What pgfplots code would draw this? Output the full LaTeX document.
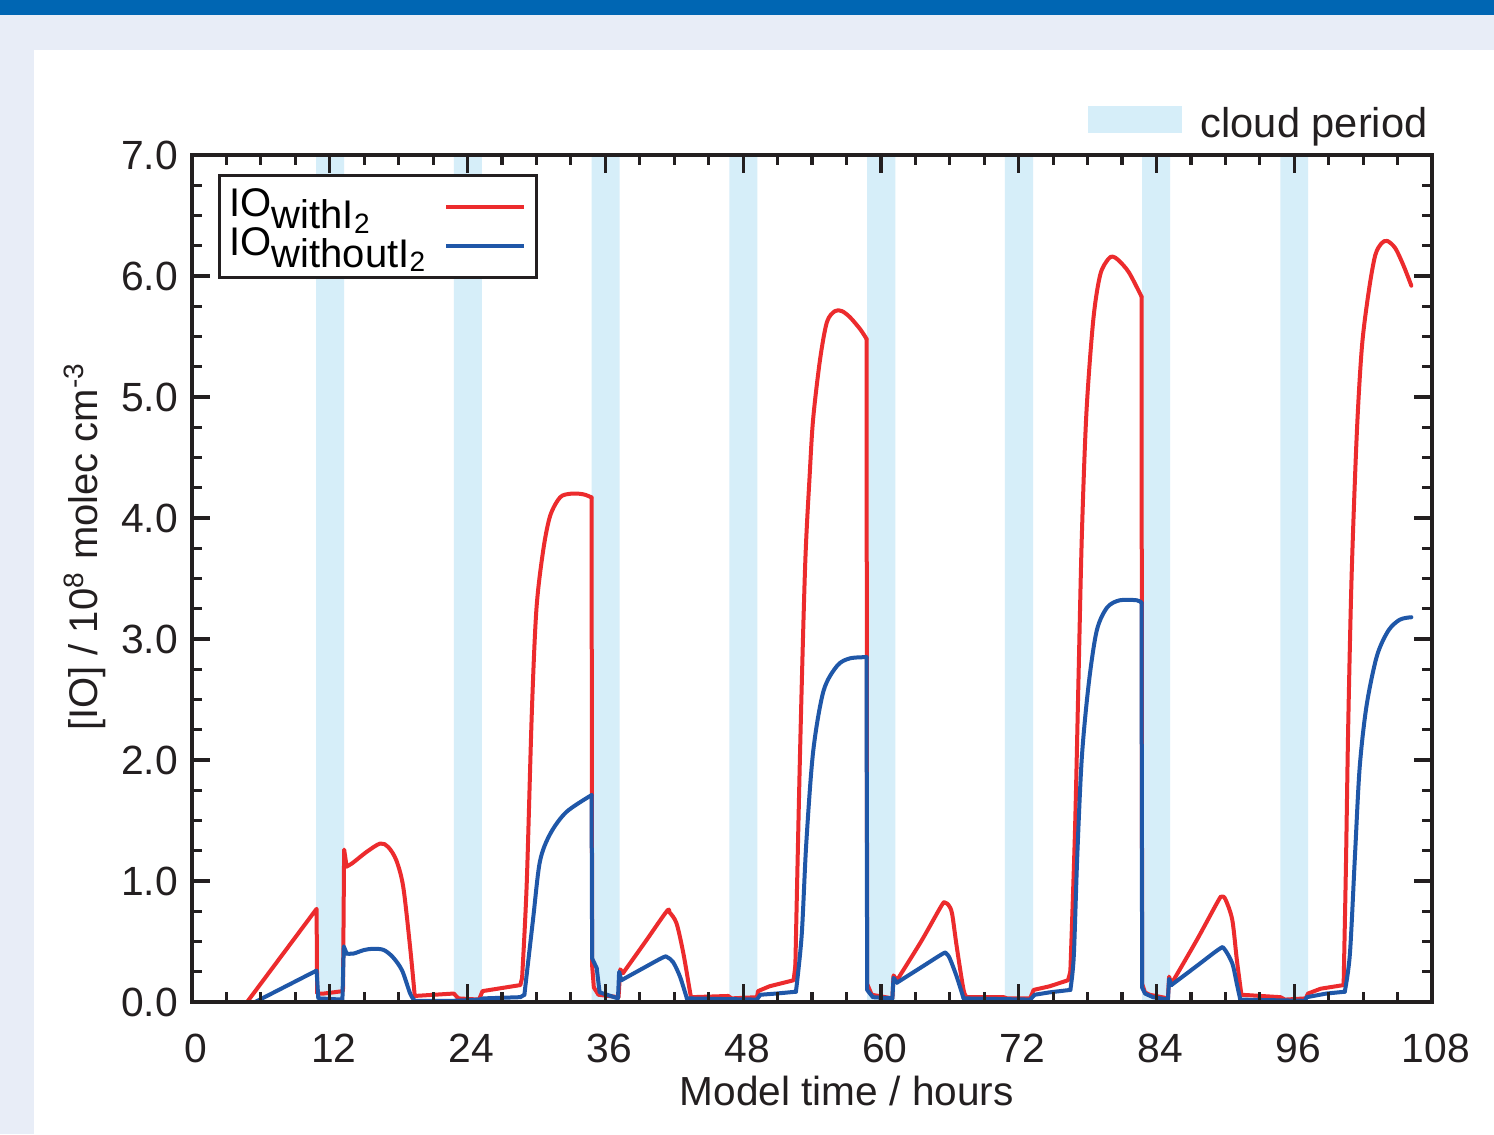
\documentclass[border=0pt]{standalone}
\usepackage{fontspec}
\setmainfont{Liberation Sans}
\usepackage{pgfplots}
\pgfplotsset{compat=1.18}
\definecolor{cloudblue}{RGB}{214,238,249}
\definecolor{iored}{RGB}{236,43,45}
\definecolor{ioblue}{RGB}{31,87,168}
\definecolor{barblue}{RGB}{0,102,179}
\definecolor{framebg}{RGB}{232,237,247}
\definecolor{ink}{RGB}{35,31,32}

\begin{document}
\begin{tikzpicture}
\fill[framebg] (-48pt,-33pt) rectangle (325.5pt,250.5pt);
\fill[barblue] (-48pt,246.75pt) rectangle (325.5pt,250.5pt);
\fill[white] (-39.5pt,-33pt) rectangle (325.5pt,238pt);
\begin{axis}[
  at={(0pt,0pt)}, anchor=south west,
  scale only axis, width=310pt, height=211.75pt,
  xmin=0, xmax=108, ymin=0, ymax=7,
  xtick={0,12,...,108}, ytick={0,1,...,7},
  minor x tick num=3, minor y tick num=3,
  tick align=inside, xtick pos=both, ytick pos=both,
  xticklabel pos=lower, yticklabel pos=left,
  major tick length=4.5pt, minor tick length=2.5pt,
  every tick/.style={ink, line width=0.8pt},
  axis line style={ink, line width=0.9pt},
  axis on top,
  tick label style={font=\fontsize{10.2}{12}\selectfont, text=ink},
  /pgf/number format/assume math mode=true,
  yticklabel style={/pgf/number format/.cd, fixed, fixed zerofill, precision=1},
  xticklabel style={anchor=base, yshift=-15pt, xshift=1pt},
  xlabel={Model time / hours},
  xlabel style={at={(axis description cs:0.528,0)}, anchor=base, yshift=-25.75pt, inner sep=0pt, font=\fontsize{10.15}{12}\selectfont, text=ink},
  ylabel={[IO] / 10\textsuperscript{8} molec cm\textsuperscript{-3}},
  ylabel style={at={(axis description cs:-0.0863,0.538)}, anchor=center, font=\fontsize{10}{12}\selectfont, text=ink},
  legend style={at={(axis description cs:0.021,0.9776)}, anchor=north west, draw=ink, line width=0.75pt, fill=white,
    inner xsep=2.5pt, inner ysep=3pt, column sep=4.75pt, row sep=0pt,
    nodes={inner sep=0pt, text height=7.2pt, text depth=2.5pt},
    font=\fontsize{10}{12}\selectfont},
  legend plot pos=right, legend cell align=left,
  legend image code/.code={\draw[#1] (0pt,0pt) -- (19.5pt,0pt);},
  rs/.style={iored, line width=1pt, line join=round, line cap=round, forget plot},
  bs/.style={ioblue, line width=1pt, line join=round, line cap=round, forget plot},
  sm/.style={smooth, tension=0.5},
]
% cloud periods
\addplot[fill=cloudblue, draw=none, forget plot] coordinates {(10.8,0) (10.8,7) (13.25,7) (13.25,0)} \closedcycle;
\addplot[fill=cloudblue, draw=none, forget plot] coordinates {(22.8,0) (22.8,7) (25.25,7) (25.25,0)} \closedcycle;
\addplot[fill=cloudblue, draw=none, forget plot] coordinates {(34.8,0) (34.8,7) (37.25,7) (37.25,0)} \closedcycle;
\addplot[fill=cloudblue, draw=none, forget plot] coordinates {(46.8,0) (46.8,7) (49.25,7) (49.25,0)} \closedcycle;
\addplot[fill=cloudblue, draw=none, forget plot] coordinates {(58.8,0) (58.8,7) (61.25,7) (61.25,0)} \closedcycle;
\addplot[fill=cloudblue, draw=none, forget plot] coordinates {(70.8,0) (70.8,7) (73.25,7) (73.25,0)} \closedcycle;
\addplot[fill=cloudblue, draw=none, forget plot] coordinates {(82.75,0) (82.75,7) (85.2,7) (85.2,0)} \closedcycle;
\addplot[fill=cloudblue, draw=none, forget plot] coordinates {(94.8,0) (94.8,7) (97.2,7) (97.2,0)} \closedcycle;

% ---------- IO with I2 (red) ----------
\addplot[rs] coordinates {(4.8,0) (10.85,0.77) (10.9,0.07) (11.5,0.07) (13.15,0.09) (13.25,1.26) (13.47,1.12)};
\addplot[rs,sm] coordinates {(13.47,1.12) (14.0,1.15) (15.2,1.24) (16.4,1.31) (17.1,1.28) (17.8,1.17) (18.4,0.95) (19.0,0.45) (19.4,0.05)};
\addplot[rs] coordinates {(19.4,0.05) (22.8,0.07) (23.2,0.03) (25.0,0.02) (25.3,0.09) (28.6,0.14) (28.75,0.2)};
\addplot[rs,sm] coordinates {(28.75,0.2) (29.15,0.97) (29.6,2.40) (30.0,3.25) (30.6,3.74) (31.2,4.02) (32.05,4.17) (32.9,4.2) (33.8,4.2) (34.3,4.19) (34.8,4.17)};
\addplot[rs] coordinates {(34.8,4.17) (34.85,0.3) (35.0,0.12) (35.4,0.06) (37.15,0.04) (37.3,0.27) (37.55,0.24)};
\addplot[rs,sm] coordinates {(37.55,0.24) (39.5,0.50) (41.35,0.75) (41.6,0.74) (42.2,0.65) (42.8,0.40) (43.4,0.07) (43.5,0.04)};
\addplot[rs] coordinates {(43.5,0.04) (46.7,0.05) (47.0,0.03) (49.2,0.04) (49.3,0.09) (50.3,0.13) (52.4,0.18) (52.55,0.3)};
\addplot[rs,sm] coordinates {(52.55,0.3) (52.96,2.07) (53.4,3.60) (53.8,4.36) (54.1,4.82) (54.7,5.31) (55.3,5.62) (56.0,5.71) (56.6,5.71) (57.3,5.66) (58.2,5.56) (58.75,5.48)};
\addplot[rs] coordinates {(58.75,5.48) (58.8,0.15) (59.2,0.06) (61.0,0.03) (61.1,0.22) (61.4,0.18)};
\addplot[rs,sm] coordinates {(61.4,0.18) (63.5,0.50) (65.3,0.80) (65.6,0.82) (65.9,0.80) (66.2,0.73) (66.6,0.46) (67.2,0.10) (67.5,0.04)};
\addplot[rs] coordinates {(67.5,0.04) (70.7,0.04) (71.0,0.03) (73.0,0.03) (73.3,0.10) (74.7,0.13) (76.3,0.18) (76.5,0.25)};
\addplot[rs,sm] coordinates {(76.5,0.25) (76.9,1.40) (77.2,2.63) (77.5,3.85) (77.9,4.87) (78.5,5.64) (79.1,6.01) (79.8,6.14) (80.2,6.16) (80.7,6.13) (81.6,6.03) (82.7,5.83)};
\addplot[rs] coordinates {(82.7,5.83) (82.75,0.15) (83.0,0.08) (83.4,0.06) (85.0,0.03) (85.1,0.21) (85.3,0.15)};
\addplot[rs,sm] coordinates {(85.3,0.15) (87.5,0.51) (89.4,0.84) (89.7,0.87) (90.0,0.85) (90.6,0.68) (91.0,0.35) (91.4,0.06)};
\addplot[rs] coordinates {(91.4,0.06) (94.8,0.04) (95.2,0.02) (97.0,0.03) (97.2,0.07) (98.3,0.11) (100.3,0.14)};
\addplot[rs,sm] coordinates {(100.3,0.14) (100.5,1.11) (100.7,2.28) (101.0,3.53) (101.45,4.70) (101.9,5.42) (102.5,5.88) (103.05,6.17) (103.6,6.27) (104.1,6.29) (104.8,6.23) (105.5,6.09) (106.2,5.92)};

% ---------- IO without I2 (blue) ----------
\addplot[bs] coordinates {(5.5,0) (10.85,0.26) (11.0,0.03) (13.1,0.02) (13.22,0.46) (13.47,0.40)};
\addplot[bs,sm] coordinates {(13.47,0.40) (14.05,0.40) (15.0,0.43) (15.8,0.44) (16.7,0.43) (17.5,0.37) (18.3,0.26) (19.0,0.07) (19.4,0.01)};
\addplot[bs] coordinates {(19.4,0.01) (22.8,0.01) (25.0,0.02) (25.4,0.03) (28.6,0.04) (28.95,0.06)};
\addplot[bs,sm] coordinates {(28.95,0.06) (29.7,0.68) (30.3,1.16) (31.2,1.39) (32.6,1.57) (34.8,1.71)};
\addplot[bs] coordinates {(34.8,1.71) (34.85,0.36) (35.25,0.28) (35.5,0.08) (37.1,0.03) (37.2,0.25) (37.4,0.18)};
\addplot[bs,sm] coordinates {(37.4,0.18) (39.3,0.28) (41.05,0.37) (41.4,0.37) (41.9,0.33) (42.5,0.21) (43.1,0.03)};
\addplot[bs] coordinates {(43.1,0.03) (49.2,0.02) (49.5,0.06) (50.9,0.07) (52.6,0.085)};
\addplot[bs,sm] coordinates {(52.6,0.085) (53.1,0.55) (53.5,1.31) (54.1,2.07) (55.0,2.57) (56.2,2.78) (57.3,2.84) (58.75,2.85)};
\addplot[bs] coordinates {(58.75,2.85) (58.8,0.1) (59.3,0.04) (61.0,0.03) (61.1,0.2) (61.4,0.16)};
\addplot[bs,sm] coordinates {(61.4,0.16) (63.4,0.28) (65.4,0.40) (65.7,0.40) (66.0,0.36) (66.6,0.21) (67.2,0.03)};
\addplot[bs] coordinates {(67.2,0.03) (73.0,0.02) (73.4,0.06) (74.7,0.08) (76.5,0.10)};
\addplot[bs,sm] coordinates {(76.5,0.10) (76.8,0.38) (77.1,1.2) (77.5,2.02) (78.1,2.63) (78.8,3.07) (79.7,3.26) (80.8,3.32) (82.3,3.32) (82.7,3.30)};
\addplot[bs] coordinates {(82.7,3.30) (82.75,0.12) (83.0,0.07) (83.7,0.04) (85.0,0.02) (85.1,0.19) (85.3,0.14)};
\addplot[bs,sm] coordinates {(85.3,0.14) (87.4,0.29) (89.5,0.44) (89.9,0.44) (90.6,0.32) (91.0,0.15) (91.3,0.02)};
\addplot[bs] coordinates {(91.3,0.02) (96.9,0.01) (97.1,0.04) (98.8,0.07) (100.4,0.085)};
\addplot[bs,sm] coordinates {(100.4,0.085) (100.85,0.40) (101.3,1.23) (101.7,1.94) (102.3,2.45) (103.2,2.86) (104.2,3.07) (105.2,3.16) (106.2,3.18)};

\addlegendimage{iored, line width=1pt}
\addlegendentry{IO\raisebox{-3pt}{withI\raisebox{-1.2pt}{\fontsize{7}{8}\selectfont 2}}}
\addlegendimage{ioblue, line width=1pt}
\addlegendentry{IO\raisebox{-3pt}{withoutI\raisebox{-1.2pt}{\fontsize{7}{8}\selectfont 2}}}
\end{axis}
\fill[cloudblue] (224pt,217.25pt) rectangle (247.5pt,224pt);
\node[anchor=base west, inner sep=0pt, font=\fontsize{10.4}{12}\selectfont, text=ink] at (252pt,216pt) {cloud period};
\pgfresetboundingbox
\useasboundingbox (-48pt,-33pt) rectangle (325.5pt,250.5pt);
\end{tikzpicture}
\end{document}
